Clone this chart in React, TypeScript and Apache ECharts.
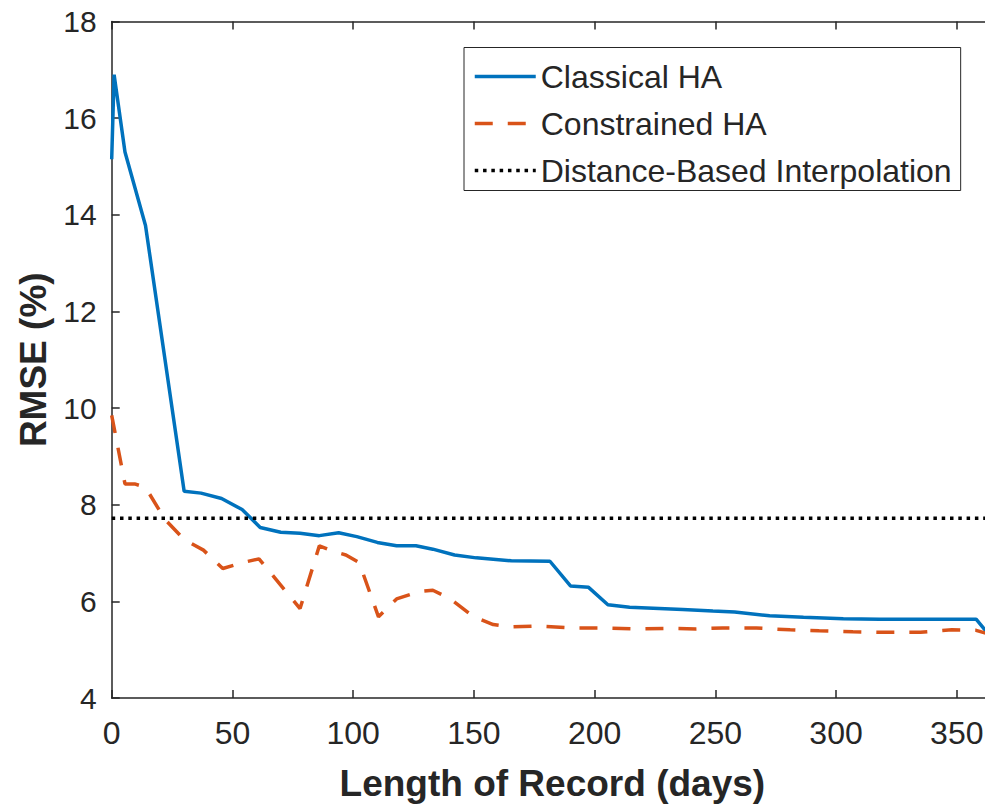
import React, { useEffect, useRef } from "react";
import * as echarts from "echarts";

// Classical HA (blue, solid)
const classicalDays = [0, 1, 5.5, 14, 30, 37, 45.5, 54, 61.5, 70, 78, 86, 94, 101.5, 110, 118, 126, 133, 142, 151, 165.5, 181.5, 190, 197.5, 205.5, 214.5, 236.5, 249, 258, 272.5, 286.5, 303, 318, 338, 358, 365];
const classicalRmse = [15.15, 16.9, 15.3, 13.78, 8.28, 8.24, 8.13, 7.9, 7.53, 7.43, 7.41, 7.36, 7.42, 7.34, 7.22, 7.15, 7.15, 7.08, 6.96, 6.9, 6.84, 6.83, 6.32, 6.29, 5.93, 5.88, 5.83, 5.8, 5.78, 5.7, 5.67, 5.64, 5.63, 5.63, 5.63, 5.21];

// Constrained HA (orange, dashed)
const constrainedDays = [0, 5.5, 9.5, 14, 22, 30, 38, 46, 54, 61, 78, 86, 92, 97, 102.5, 110.5, 118, 127, 133, 140, 150, 158, 165, 176, 190, 202, 216, 230, 242, 253, 267, 281, 293, 307, 321, 335, 348, 358, 365];
const constrainedRmse = [9.85, 8.43, 8.43, 8.36, 7.7, 7.28, 7.06, 6.68, 6.8, 6.88, 5.85, 7.15, 7.03, 6.96, 6.8, 5.68, 6.05, 6.2, 6.23, 6.06, 5.68, 5.52, 5.47, 5.49, 5.45, 5.45, 5.43, 5.44, 5.43, 5.45, 5.45, 5.41, 5.39, 5.37, 5.36, 5.36, 5.41, 5.4, 5.3];

// Distance-Based Interpolation (black, dotted)
const distanceDays = [0, 365];
const distanceRmse = [7.72, 7.72];

const seriesNames = ["Classical HA", "Constrained HA", "Distance-Based Interpolation"];
const xAxisTitle = "Length of Record (days)";
const yAxisTitle = "RMSE (%)";

const zip = (xs: number[], ys: number[]) => xs.map((x, i) => [x, ys[i]]);

const FONT = "'Liberation Sans', Arial, Helvetica, sans-serif";
const AX = "#262626";

export default function App() {
  const ref = useRef<HTMLDivElement>(null);
  useEffect(() => {
    document.documentElement.style.overflow = "hidden";
    document.body.style.overflow = "hidden";
    const chart = echarts.init(ref.current!, null, { renderer: "svg" });
    const axisCommon = {
      axisLine: { show: true, onZero: false, lineStyle: { color: AX, width: 1.5 } },
      axisTick: { show: true, inside: true, length: 8, lineStyle: { color: AX, width: 1.5 } },
      splitLine: { show: false },
    };
    chart.setOption({
      animation: false,
      backgroundColor: "#ffffff",
      textStyle: { fontFamily: FONT },
      grid: { left: 111.7, top: 21.5, width: 881.3, height: 676.5, containLabel: false },
      legend: {
        orient: "vertical",
        left: 464,
        top: 47.5,
        itemWidth: 61,
        itemHeight: 2,
        itemGap: 13,
        padding: [12, 9, 3, 9],
        borderColor: AX,
        borderWidth: 1,
        backgroundColor: "#ffffff",
        itemStyle: { opacity: 0, borderWidth: 0 },
        lineStyle: { width: 3.5 },
        textStyle: { fontSize: 32, color: AX, lineHeight: 34, fontFamily: FONT },
        data: seriesNames,
      },
      xAxis: [
        {
          type: "value",
          position: "bottom",
          min: 0,
          max: 365,
          interval: 50,
          ...axisCommon,
          axisLabel: { fontSize: 32, color: AX, margin: 19, showMaxLabel: false, fontFamily: FONT },
          name: xAxisTitle,
          nameLocation: "middle",
          nameGap: 67,
          nameTextStyle: { fontSize: 37, fontWeight: "bold", color: AX, fontFamily: FONT },
        },
        {
          type: "value",
          position: "top",
          min: 0,
          max: 365,
          interval: 50,
          ...axisCommon,
          axisLabel: { show: false },
        },
      ],
      yAxis: [
        {
          type: "value",
          position: "left",
          min: 4,
          max: 18,
          interval: 2,
          ...axisCommon,
          axisLabel: { fontSize: 30, color: AX, margin: 15, fontFamily: FONT },
          name: yAxisTitle,
          nameLocation: "middle",
          nameRotate: 90,
          nameGap: 55,
          nameTextStyle: { fontSize: 37, fontWeight: "bold", color: AX, fontFamily: FONT },
        },
        {
          type: "value",
          position: "right",
          min: 4,
          max: 18,
          interval: 2,
          ...axisCommon,
          axisLabel: { show: false },
        },
      ],
      series: [
        {
          name: seriesNames[0],
          type: "line",
          symbol: "none",
          showSymbol: false,
          data: zip(classicalDays, classicalRmse),
          itemStyle: { color: "#0072BD" },
          lineStyle: { color: "#0072BD", width: 3.5 },
        },
        {
          name: seriesNames[1],
          type: "line",
          symbol: "none",
          showSymbol: false,
          data: zip(constrainedDays, constrainedRmse),
          itemStyle: { color: "#D95319" },
          lineStyle: { color: "#D95319", width: 3.5, type: [18, 15] },
        },
        {
          name: seriesNames[2],
          type: "line",
          symbol: "none",
          showSymbol: false,
          data: zip(distanceDays, distanceRmse),
          itemStyle: { color: "#000000" },
          lineStyle: { color: "#000000", width: 3.5, type: [3.5, 4.8] },
        },
      ],
    });
    return () => chart.dispose();
  }, []);
  return (
    <div
      ref={ref}
      style={{ position: "fixed", left: 0, top: 0, width: 1000, height: 809, background: "#fff" }}
    />
  );
}
